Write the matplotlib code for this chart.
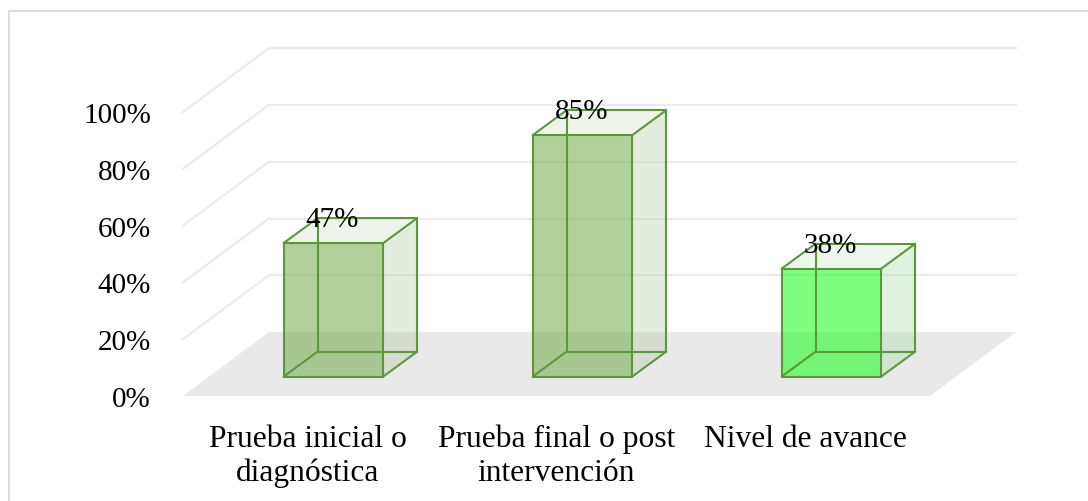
import matplotlib
matplotlib.use("Agg")
import matplotlib.pyplot as plt
from matplotlib.patches import Polygon, Rectangle

# Data
categories = ["Prueba inicial o\ndiagnóstica", "Prueba final o post\nintervención", "Nivel de avance"]
values = [47, 85, 38]
value_labels = ["47%", "85%", "38%"]
y_ticks = [0, 20, 40, 60, 80, 100]
y_tick_labels = ["0%", "20%", "40%", "60%", "80%", "100%"]

# Style
FONT = "Liberation Serif"
GRID = "#ebebeb"
FLOOR = "#e9e9e9"
EDGE = "#5b983b"
front_colors = [("#70ad47", 0.55), ("#70ad47", 0.55), ("#00ff00", 0.5)]
side_colors = [("#b4c6a4", 0.35), ("#b4c6a4", 0.35), ("#a6dca6", 0.35)]
top_colors = [("#cddcc0", 0.3), ("#cddcc0", 0.3), ("#c0e8c0", 0.3)]

# 3D-look geometry (data units: x in category slots, y in percent)
FLOOR_DX, FLOOR_DY = 0.345, 22.5     # depth of the plot floor
BAR_DX, BAR_DY = 0.1365, 8.8         # depth of each box
GAP_DX, GAP_DY = (FLOOR_DX - BAR_DX) / 2, (FLOOR_DY - BAR_DY) / 2
BAR_W = 0.40

W, H = 1088, 502
fig = plt.figure(figsize=(W / 100, H / 100), dpi=100)
ax = fig.add_axes([183 / W, (H - 397) / H, 747 / W, 284 / H])
ax.set_xlim(-0.5, len(categories) - 0.5)
ax.set_ylim(0, 100)
ax.axis("off")

# chart border
fig.patches.append(Rectangle((8.5 / W, -0.1), 1.2, 1 - 11.5 / H + 0.1,
                             transform=fig.transFigure, fill=False,
                             edgecolor="#d9d9d9", linewidth=1.3))

x0, x1 = -0.5, len(categories) - 0.5

# floor
ax.add_patch(Polygon([(x0, 0), (x1, 0), (x1 + FLOOR_DX, FLOOR_DY), (x0 + FLOOR_DX, FLOOR_DY)],
                     closed=True, facecolor=FLOOR, edgecolor="none", clip_on=False, zorder=1))

# gridlines: side wall diagonals and back wall lines
for t in y_ticks[1:]:
    ax.plot([x0, x0 + FLOOR_DX], [t, t + FLOOR_DY], color=GRID, lw=1.5, clip_on=False, zorder=1)
    ax.plot([x0 + FLOOR_DX, x1 + FLOOR_DX], [t + FLOOR_DY, t + FLOOR_DY], color=GRID, lw=1.5,
            clip_on=False, zorder=1)

# boxes
for i, v in enumerate(values):
    fl = i + GAP_DX - BAR_W / 2
    fr = i + GAP_DX + BAR_W / 2
    fb = GAP_DY
    ft = GAP_DY + v
    bl, br = fl + BAR_DX, fr + BAR_DX
    bb, bt = fb + BAR_DY, ft + BAR_DY

    fc, fa = front_colors[i]
    sc, sa = side_colors[i]
    tc, ta = top_colors[i]
    ax.add_patch(Polygon([(fr, fb), (br, bb), (br, bt), (fr, ft)], closed=True,
                         facecolor=sc, alpha=sa, edgecolor="none", clip_on=False, zorder=2))
    ax.add_patch(Polygon([(fl, ft), (fr, ft), (br, bt), (bl, bt)], closed=True,
                         facecolor=tc, alpha=ta, edgecolor="none", clip_on=False, zorder=2))
    ax.add_patch(Polygon([(fl, fb), (fr, fb), (fr, ft), (fl, ft)], closed=True,
                         facecolor=fc, alpha=fa, edgecolor="none", clip_on=False, zorder=3))

    edges = [
        [(fl, fb), (fr, fb)], [(fr, fb), (fr, ft)], [(fr, ft), (fl, ft)], [(fl, ft), (fl, fb)],
        [(bl, bb), (br, bb)], [(br, bb), (br, bt)], [(br, bt), (bl, bt)], [(bl, bt), (bl, bb)],
        [(fl, fb), (bl, bb)], [(fr, fb), (br, bb)], [(fr, ft), (br, bt)], [(fl, ft), (bl, bt)],
    ]
    for (xa, ya), (xb, yb) in edges:
        ax.plot([xa, xb], [ya, yb], color=EDGE, lw=1.5, solid_capstyle="round",
                clip_on=False, zorder=4)

    ax.text(i + GAP_DX - 0.005, ft + 6.0, value_labels[i], ha="center", va="baseline",
            fontsize=21, family=FONT, color="black", zorder=5)

# y tick labels
for t, lab in zip(y_ticks, y_tick_labels):
    ax.text(x0 - 0.1285, t, lab, ha="right", va="center_baseline", fontsize=21,
            family=FONT, color="black")

# category labels
for i, lab in enumerate(categories):
    ax.text(i, -9.8, lab, ha="center", va="top", fontsize=22.7, family=FONT,
            color="black", linespacing=1.22)

fig.savefig("out.png", dpi=100)
